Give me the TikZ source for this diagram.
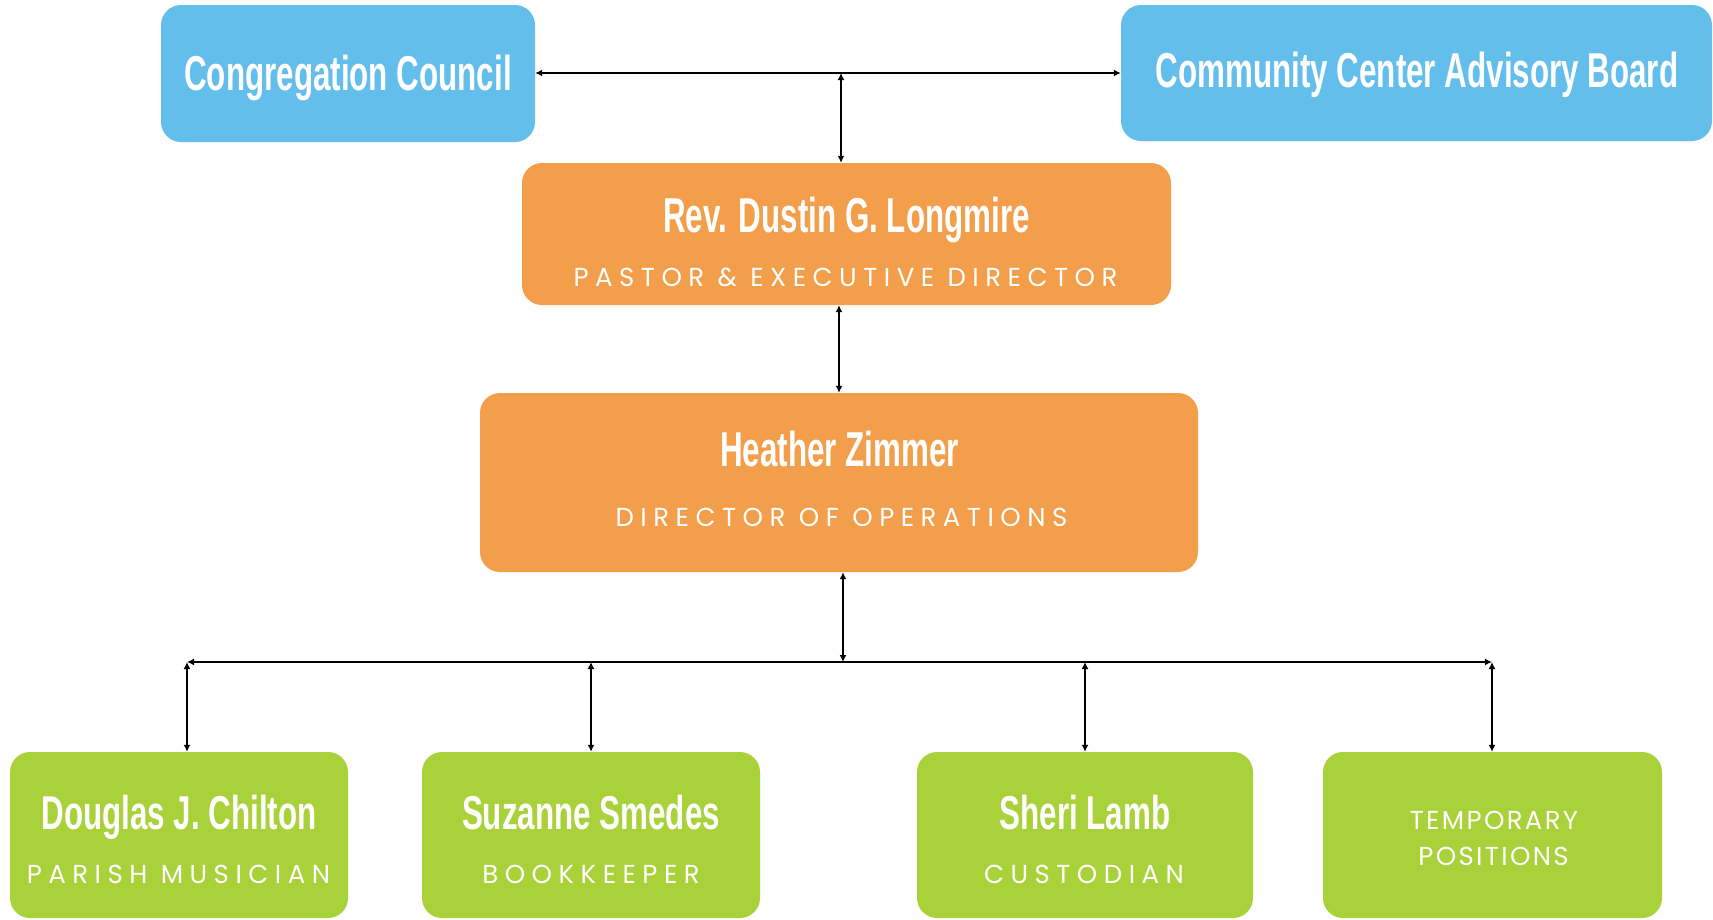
\documentclass[tikz,border=0pt]{standalone}
\usepackage{fontspec}
\usetikzlibrary{arrows.meta}
\newfontfamily\namefont[FakeStretch=0.64]{Liberation Sans}
\newfontfamily\gnamefont[FakeStretch=0.66]{Liberation Sans}
\newfontfamily\subfont[LetterSpace=25]{Poppins}
\newfontfamily\tempfont[LetterSpace=9]{Poppins}
\definecolor{cblue}{HTML}{63BEEB}
\definecolor{corange}{HTML}{F39E4A}
\definecolor{cgreen}{HTML}{A9D139}
\tikzset{
  box/.style={rounded corners=20pt, inner sep=0pt, draw=none},
  bluebox/.style={box, fill=cblue},
  orangebox/.style={box, fill=corange},
  greenbox/.style={box, fill=cgreen},
  nametext/.style={anchor=base, text=white, inner sep=0pt, font=\namefont\bfseries\fontsize{49}{49}\selectfont},
  gnametext/.style={anchor=base, text=white, inner sep=0pt, font=\gnamefont\bfseries\fontsize{47.5}{47.5}\selectfont},
  subtext/.style={anchor=base, text=white, inner sep=0pt, xshift=-1pt, font=\subfont\fontsize{26}{26}\selectfont},
  temptext/.style={anchor=base, text=white, inner sep=0pt, font=\tempfont\fontsize{26}{26}\selectfont},
  conn/.style={line width=1.6pt, black, {Latex[length=7pt,width=7pt]}-{Latex[length=7pt,width=7pt]}}
}
\begin{document}
\begin{tikzpicture}[x=1pt,y=-1pt]
\useasboundingbox (0,0) rectangle (1713,919);
% boxes
\node[bluebox, minimum width=374pt, minimum height=137pt] (cc) at (348,73.5) {};
\node[bluebox, minimum width=591pt, minimum height=136pt] (ccab) at (1416.5,73) {};
\node[orangebox, minimum width=649pt, minimum height=142pt] (rev) at (846.5,234) {};
\node[orangebox, minimum width=718pt, minimum height=179pt] (hz) at (839,482.5) {};
\node[greenbox, minimum width=338pt, minimum height=166pt] (dc) at (179,835) {};
\node[greenbox, minimum width=338pt, minimum height=166pt] (ss) at (591,835) {};
\node[greenbox, minimum width=336pt, minimum height=166pt] (sl) at (1085,835) {};
\node[greenbox, minimum width=339pt, minimum height=166pt] (tp) at (1492.5,835) {};
% texts
\node[nametext] (cct) at (348,90) {Congregation Council};
\node[nametext] (ccabt) at (1417,87) {Community Center Advisory Board};
\node[nametext] (revn) at (846.5,232) {Rev. Dustin G. Longmire};
\node[subtext] (revs) at (846.5,286) {PASTOR \& EXECUTIVE DIRECTOR};
\node[nametext] (hzn) at (839.5,466) {Heather Zimmer};
\node[subtext] (hzs) at (842.5,526) {DIRECTOR OF OPERATIONS};
\node[gnametext] (dcn) at (179,829) {Douglas J. Chilton};
\node[subtext] (dcs) at (179.5,883) {PARISH MUSICIAN};
\node[gnametext] (ssn) at (591,829) {Suzanne Smedes};
\node[subtext] (sss) at (592,883) {BOOKKEEPER};
\node[gnametext] (sln) at (1085,829) {Sheri Lamb};
\node[subtext] (sls) at (1085,883) {CUSTODIAN};
\node[temptext] (tp1) at (1494,829) {TEMPORARY};
\node[temptext] (tp2) at (1493.5,865) {POSITIONS};
% junction coordinates
\coordinate (jtop) at (841,73);
\coordinate (bl) at (187,662);
\coordinate (br) at (1492,662);
\coordinate (bhz) at (843,662);
\coordinate (bss) at (591,662);
\coordinate (bsl) at (1085,662);
% connectors
\draw[conn] (cc.east |- jtop) -- (ccab.west |- jtop);
\draw[conn] (jtop) -- (jtop |- rev.north);
\draw[conn] (hz.north |- rev.south) -- (hz.north);
\draw[conn] (bhz |- hz.south) -- (bhz);
\draw[conn] (bl) -- (br);
\draw[conn] (bl) -- (bl |- dc.north);
\draw[conn] (bss) -- (bss |- ss.north);
\draw[conn] (bsl) -- (bsl |- sl.north);
\draw[conn] (br) -- (br |- tp.north);
\end{tikzpicture}
\end{document}
